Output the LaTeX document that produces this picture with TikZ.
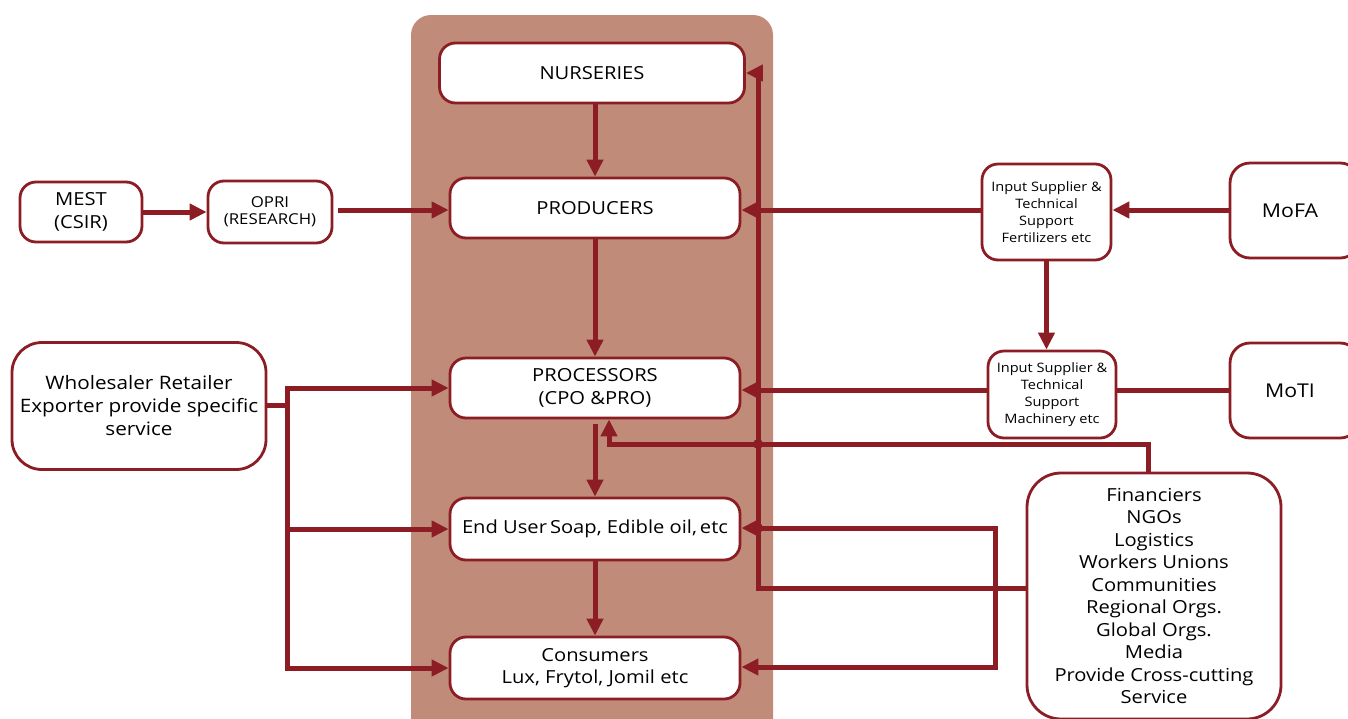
\documentclass[tikz,border=0pt]{standalone}
\usepackage{fontspec}
\setmainfont{Open Sans}[FakeStretch=1.12]
\usetikzlibrary{arrows.meta,calc}
\definecolor{lred}{RGB}{140,29,36}
\definecolor{panel}{RGB}{192,139,121}
\tikzset{
  box/.style={draw=lred,line width=2.8pt,fill=white,rounded corners=16pt,align=center,inner sep=2pt,font=\fontsize{18}{22.5}\selectfont},
  sbox/.style={box,font=\fontsize{13}{17}\selectfont},
  conn/.style={draw=lred,line width=5pt},
  arr/.style={conn,-{Triangle[length=17pt,width=16pt]}},
  jdot/.style={circle,fill=lred,inner sep=0pt,minimum size=10pt}
}
\begin{document}
\begin{tikzpicture}[x=1pt,y=-1pt]
\useasboundingbox (0,0) rectangle (1348,718);
\fill[panel,rounded corners=20pt] (411,15) rectangle (773,745);
% center column
\node[box,minimum width=305pt,minimum height=60pt] (nur) at (592,73) {NURSERIES};
\node[box,minimum width=290pt,minimum height=60pt] (pro) at (595,208) {PRODUCERS};
\node[box,minimum width=290pt,minimum height=60pt] (prc) at (595,388) {PROCESSORS\\(CPO \&PRO)};
\node[box,minimum width=290pt,minimum height=62pt] (end) at (595,529) {End User\,Soap, Edible oil,\,etc};
\node[box,minimum width=290pt,minimum height=62pt] (con) at (595,668) {Consumers\\Lux, Frytol, Jomil etc};
% left
\node[box,minimum width=122pt,minimum height=60pt] (mest) at (81,212) {MEST\\(CSIR)};
\node[box,minimum width=124pt,minimum height=62pt,font=\fontsize{15}{17}\selectfont] (opri) at (270,212) {OPRI\\(RESEARCH)};
\node[box,minimum width=254pt,minimum height=127pt,rounded corners=30pt,font=\fontsize{18.5}{23}\selectfont] (whole) at (139,406) {Wholesaler Retailer\\Exporter provide specific\\service};
% right
\node[sbox,minimum width=129pt,minimum height=96pt] (inf) at (1046.5,212) {Input Supplier \&\\Technical\\Support\\Fertilizers etc};
\node[sbox,minimum width=128pt,minimum height=87pt] (inm) at (1052,394.5) {Input Supplier \&\\Technical\\Support\\Machinery etc};
\node[box,minimum width=130pt,minimum height=95pt,font=\fontsize{19}{23}\selectfont,rounded corners=20pt] (mofa) at (1295,210.5) {MoFA\hspace*{10pt}};
\node[box,minimum width=130pt,minimum height=95pt,font=\fontsize{19}{23}\selectfont,rounded corners=20pt] (moti) at (1295,390.5) {MoTI\hspace*{10pt}};
\node[box,minimum width=254pt,minimum height=246pt,rounded corners=34pt] (fin) at (1154,596) {Financiers\\NGOs\\Logistics\\Workers Unions\\Communities\\Regional Orgs.\\Global Orgs.\\Media\\Provide Cross-cutting\\Service};
% coordinates
\coordinate (bx) at (758,0);
\coordinate (rx) at (995,0);
\coordinate (wx) at (287,0);
% vertical flow
\draw[arr] (nur.south -| 595,0) -- (pro.north -| 595,0);
\draw[arr] (pro.south -| 595,0) -- (prc.north -| 595,0);
\draw[arr] (prc.south -| 595,0) ++(0,5) -- (end.north -| 595,0);
\draw[arr] (end.south -| 595,0) -- (con.north -| 595,0);
% left chain
\draw[arr] (mest.east) -- (opri.west);
\draw[arr,shorten <=5pt] (opri.east |- 0,210) -- (pro.west |- 0,210);
% wholesaler
\draw[conn] (whole.east |- 0,405) -- (wx |- 0,405);
\draw[conn,line cap=rect] (wx |- prc.west) -- (wx |- con.west);
\draw[arr] (wx |- prc.west) -- (prc.west);
\draw[arr] (wx |- end.west) -- (end.west);
\draw[arr] (wx |- con.west) -- (con.west);
% right inputs
\draw[arr] (mofa.west |- 0,210) -- (inf.east |- 0,210);
\draw[arr] (inf.west |- 0,210) -- (pro.east |- 0,210);
\draw[arr] (inf.south) -- (inm.north -| inf.south);
\draw[conn] (moti.west |- 0,390) -- (inm.east |- 0,390);
\draw[arr] (inm.west |- 0,390) -- (prc.east |- 0,390);
% financiers bus
\draw[arr,line join=miter] (fin.west |- 0,588) -- (bx |- 0,588) -- (bx |- 0,73) -- (nur.east |- 0,73);
\draw[arr,line join=miter] (fin.north -| 1148,0) -- (1148,444) -- (609,444) -- (prc.south -| 609,0);
\draw[arr,line join=miter] (rx |- 0,528) -- (end.east |- 0,528);
\draw[arr,line join=miter] (rx |- 0,526) -- (rx |- 0,667) -- (con.east |- 0,667);
\node[jdot] (d1) at (bx |- 0,444) {};
\node[jdot] (d2) at (bx |- 0,528) {};
\end{tikzpicture}
\end{document}
